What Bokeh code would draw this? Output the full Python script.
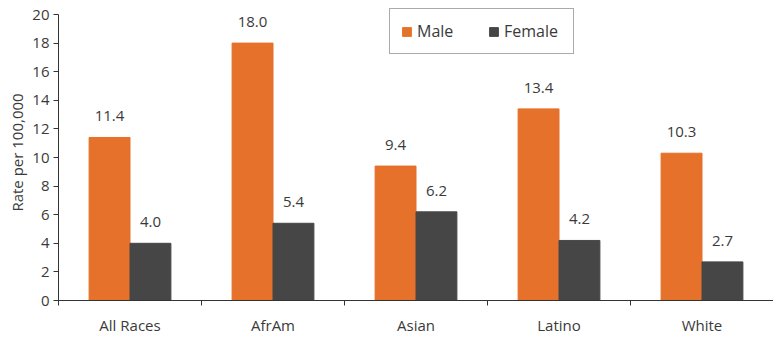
from bokeh.plotting import figure
from bokeh.models import Range1d, FixedTicker
from bokeh.core.properties import value
from bokeh.embed import file_html
from bokeh.resources import INLINE

# Rates per 100,000 by race/ethnicity and sex
categories = ["All Races", "AfrAm", "Asian", "Latino", "White"]
male = [11.4, 18.0, 9.4, 13.4, 10.3]
female = [4.0, 5.4, 6.2, 4.2, 2.7]
y_ticks = [0, 2, 4, 6, 8, 10, 12, 14, 16, 18, 20]

ORANGE = "#E5712A"
DARK = "#464646"
TEXT = "#3a3a3a"
FONT = "Open Sans"

n = len(categories)
bar_w = 0.286
centers = [i + 0.5 for i in range(n)]
x_male = [c - bar_w / 2 for c in centers]
x_female = [c + bar_w / 2 for c in centers]

# the frame runs a few pixels above the 20 mark so the legend box is not clipped;
# the y axis line itself stops at 20
y_max = 20
y_top = y_max * 296 / 286

p = figure(width=773, height=337, x_range=Range1d(0, n), y_range=Range1d(0, y_top),
           output_backend="svg", toolbar_location=None,
           min_border_left=58, min_border_right=0, min_border_top=4, min_border_bottom=37)
p.outline_line_color = None
p.xgrid.grid_line_color = None
p.ygrid.grid_line_color = None
p.background_fill_color = "white"
p.border_fill_color = "white"

p.vbar(x=x_male, top=male, width=bar_w, color=ORANGE, legend_label="Male")
p.vbar(x=x_female, top=female, width=bar_w, color=DARK, legend_label="Female")

# value labels above each bar
for xs, vals in ((x_male, male), (x_female, female)):
    p.text(x=xs, y=vals, text=[f"{v:.1f}" for v in vals],
           text_font=value(FONT), text_font_size="15px", text_color=TEXT,
           text_align="center", text_baseline="middle", y_offset=-21)

# x axis: category names centred, small ticks at the category boundaries
xa = p.xaxis[0]
xa.ticker = FixedTicker(ticks=centers, minor_ticks=list(range(n + 1)))
xa.major_label_overrides = {c: name for c, name in zip(centers, categories)}
xa.major_tick_out = 0
xa.major_tick_in = 0
xa.minor_tick_out = 5
xa.minor_tick_in = 0
xa.minor_tick_line_color = "#333333"
xa.axis_line_color = "#333333"
xa.major_label_text_font = FONT
xa.major_label_text_font_size = "15px"
xa.major_label_text_color = TEXT
xa.major_label_standoff = 9

ya = p.yaxis[0]
ya.bounds = (0, y_max)
ya.ticker = FixedTicker(ticks=y_ticks, minor_ticks=[])
ya.major_tick_out = 5
ya.major_tick_in = 0
ya.major_tick_line_color = "#333333"
ya.axis_line_color = "#333333"
ya.major_label_text_font = FONT
ya.major_label_text_font_size = "15px"
ya.major_label_text_color = TEXT
ya.major_label_standoff = 4
ya.axis_label = "Rate per 100,000"
ya.axis_label_text_font = FONT
ya.axis_label_text_font_size = "15px"
ya.axis_label_text_font_style = "normal"
ya.axis_label_text_color = TEXT
ya.axis_label_standoff = 2

lg = p.legend[0]
lg.orientation = "horizontal"
lg.location = (331, 246)
lg.border_line_color = "#555555"
lg.border_line_width = 1
lg.background_fill_color = "white"
lg.background_fill_alpha = 1
lg.label_text_font = FONT
lg.label_text_font_size = "16px"
lg.label_text_color = TEXT
lg.glyph_width = 11
lg.glyph_height = 11
lg.label_height = 14
lg.label_width = 58
lg.label_standoff = 5
lg.spacing = 13
lg.padding = 11
lg.margin = 0

open("out.html", "w").write(file_html(p, INLINE))
